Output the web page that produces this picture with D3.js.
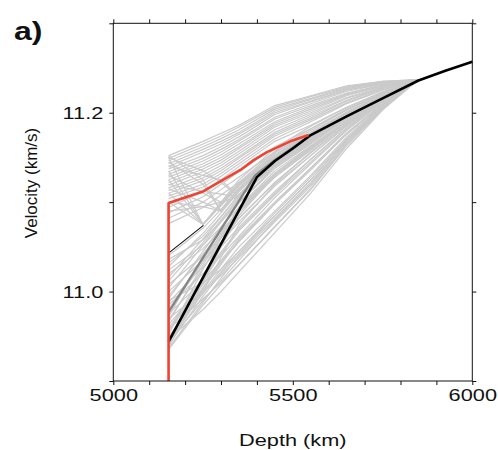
<!DOCTYPE html>
<html>
<head>
<meta charset="utf-8">
<script src="https://cdn.jsdelivr.net/npm/d3@7"></script>
<style>
body { margin: 0; background: #fff; }
text { font-family: "Liberation Sans", Arial, sans-serif; fill: #111; }
</style>
</head>
<body>
<div id="main"></div>
<script>
const ctx = {
    w: 498,
    h: 450,
    left: 113.3, right: 472.3, top: 23.3, bottom: 381,
    SX: 1.28 // text in the figure is stretched horizontally
};

// depth grid shared by the grey ensemble (km)
const gridDepth = [5154, 5250, 5300, 5350, 5450, 5550, 5650, 5750, 5850];

// grey ensemble, upper family: velocity (km/s) at gridDepth
const grayUpper = [
    [11.152, 11.168, 11.177, 11.186, 11.208, 11.219, 11.230, 11.235, 11.237],
    [11.149, 11.165, 11.174, 11.184, 11.206, 11.218, 11.229, 11.235, 11.237],
    [11.146, 11.162, 11.171, 11.181, 11.204, 11.216, 11.228, 11.234, 11.237],
    [11.143, 11.159, 11.168, 11.178, 11.202, 11.215, 11.227, 11.234, 11.237],
    [11.140, 11.156, 11.165, 11.176, 11.200, 11.213, 11.226, 11.233, 11.237],
    [11.137, 11.152, 11.162, 11.173, 11.198, 11.212, 11.225, 11.233, 11.237],
    [11.134, 11.149, 11.159, 11.170, 11.195, 11.210, 11.224, 11.232, 11.237],
    [11.131, 11.146, 11.156, 11.168, 11.193, 11.208, 11.222, 11.231, 11.237],
    [11.128, 11.143, 11.153, 11.165, 11.190, 11.206, 11.221, 11.231, 11.237],
    [11.125, 11.140, 11.150, 11.162, 11.188, 11.204, 11.220, 11.230, 11.237],
    [11.122, 11.137, 11.147, 11.160, 11.186, 11.202, 11.219, 11.230, 11.237],
    [11.119, 11.134, 11.144, 11.157, 11.184, 11.200, 11.217, 11.229, 11.237],
    [11.116, 11.130, 11.141, 11.154, 11.181, 11.198, 11.216, 11.228, 11.237],
    [11.113, 11.127, 11.138, 11.151, 11.178, 11.196, 11.214, 11.228, 11.237],
    [11.110, 11.124, 11.135, 11.149, 11.176, 11.194, 11.213, 11.227, 11.237],
    [11.107, 11.120, 11.132, 11.146, 11.174, 11.192, 11.211, 11.226, 11.237],
    [11.104, 11.117, 11.129, 11.143, 11.171, 11.190, 11.210, 11.225, 11.237],
    [11.094, 11.112, 11.125, 11.140, 11.168, 11.186, 11.206, 11.223, 11.237],
    [11.088, 11.106, 11.120, 11.134, 11.162, 11.182, 11.203, 11.221, 11.237],
    [11.082, 11.100, 11.114, 11.128, 11.156, 11.177, 11.200, 11.219, 11.237],
    [11.076, 11.094, 11.108, 11.122, 11.150, 11.173, 11.197, 11.218, 11.237],
    [11.150, 11.075, 11.100, 11.125, 11.160, 11.185, 11.206, 11.223, 11.237],
    [11.135, 11.075, 11.099, 11.122, 11.157, 11.182, 11.204, 11.222, 11.237],
    [11.125, 11.075, 11.098, 11.120, 11.155, 11.180, 11.203, 11.221, 11.237],
    [11.110, 11.075, 11.097, 11.119, 11.153, 11.178, 11.201, 11.220, 11.237],
    [11.100, 11.075, 11.096, 11.118, 11.152, 11.177, 11.200, 11.219, 11.237],
    [11.152, 11.125, 11.090, 11.114, 11.149, 11.175, 11.199, 11.219, 11.237],
    [11.145, 11.120, 11.090, 11.115, 11.150, 11.175, 11.199, 11.219, 11.237],
    [11.115, 11.100, 11.090, 11.112, 11.148, 11.174, 11.198, 11.218, 11.237],
    [11.100, 11.095, 11.090, 11.113, 11.148, 11.174, 11.198, 11.218, 11.237],
    [11.150, 11.135, 11.122, 11.106, 11.144, 11.171, 11.196, 11.218, 11.237],
    [11.140, 11.130, 11.125, 11.106, 11.145, 11.172, 11.197, 11.218, 11.237],
    [11.130, 11.110, 11.100, 11.106, 11.140, 11.168, 11.195, 11.217, 11.237],
    [11.120, 11.112, 11.109, 11.106, 11.141, 11.169, 11.195, 11.217, 11.237],
    [11.090, 11.095, 11.100, 11.106, 11.142, 11.170, 11.196, 11.217, 11.237]
];

// grey ensemble, lower family
const grayLower = [
    [10.935, 10.985, 11.008, 11.030, 11.073, 11.115, 11.165, 11.205, 11.237],
    [10.937, 10.988, 11.015, 11.040, 11.082, 11.122, 11.168, 11.206, 11.237],
    [10.938, 11.010, 11.050, 11.085, 11.130, 11.160, 11.190, 11.216, 11.237],
    [10.940, 10.995, 11.020, 11.042, 11.085, 11.125, 11.170, 11.207, 11.237],
    [10.942, 11.000, 11.038, 11.075, 11.120, 11.152, 11.186, 11.214, 11.237],
    [10.943, 11.003, 11.030, 11.058, 11.100, 11.138, 11.177, 11.210, 11.237],
    [10.945, 10.990, 11.012, 11.035, 11.080, 11.120, 11.168, 11.206, 11.237],
    [10.947, 10.980, 11.000, 11.022, 11.066, 11.110, 11.160, 11.203, 11.237],
    [10.948, 11.005, 11.032, 11.056, 11.098, 11.138, 11.177, 11.210, 11.237],
    [10.950, 10.998, 11.022, 11.045, 11.088, 11.128, 11.171, 11.208, 11.237],
    [10.952, 11.025, 11.060, 11.095, 11.135, 11.163, 11.191, 11.216, 11.237],
    [10.955, 11.012, 11.042, 11.068, 11.108, 11.145, 11.181, 11.212, 11.237],
    [10.958, 11.016, 11.044, 11.070, 11.110, 11.148, 11.183, 11.213, 11.237],
    [10.958, 10.992, 11.010, 11.030, 11.072, 11.114, 11.163, 11.204, 11.237],
    [10.960, 11.000, 11.025, 11.050, 11.090, 11.130, 11.173, 11.209, 11.237],
    [10.963, 11.008, 11.035, 11.060, 11.100, 11.138, 11.176, 11.210, 11.237],
    [10.966, 11.030, 11.060, 11.090, 11.130, 11.160, 11.189, 11.216, 11.237],
    [10.968, 11.026, 11.055, 11.082, 11.122, 11.156, 11.187, 11.215, 11.237],
    [10.970, 11.000, 11.018, 11.038, 11.078, 11.118, 11.166, 11.205, 11.237],
    [10.972, 11.040, 11.070, 11.100, 11.140, 11.167, 11.194, 11.218, 11.237],
    [10.975, 11.012, 11.034, 11.056, 11.098, 11.136, 11.176, 11.210, 11.237],
    [10.978, 11.033, 11.062, 11.088, 11.128, 11.159, 11.189, 11.216, 11.237],
    [10.980, 11.036, 11.064, 11.092, 11.132, 11.162, 11.190, 11.216, 11.237],
    [10.985, 11.020, 11.040, 11.062, 11.105, 11.143, 11.180, 11.212, 11.237],
    [10.988, 11.028, 11.050, 11.072, 11.112, 11.148, 11.183, 11.213, 11.237],
    [10.990, 11.010, 11.025, 11.045, 11.085, 11.125, 11.170, 11.207, 11.237],
    [10.992, 11.045, 11.072, 11.099, 11.138, 11.166, 11.193, 11.218, 11.237],
    [10.995, 11.042, 11.066, 11.092, 11.132, 11.162, 11.191, 11.217, 11.237],
    [11.000, 11.035, 11.055, 11.078, 11.118, 11.152, 11.185, 11.214, 11.237],
    [11.004, 11.052, 11.078, 11.104, 11.143, 11.169, 11.195, 11.219, 11.237],
    [11.008, 11.040, 11.060, 11.082, 11.122, 11.155, 11.187, 11.215, 11.237],
    [11.012, 11.055, 11.080, 11.106, 11.145, 11.170, 11.196, 11.219, 11.237],
    [11.016, 11.059, 11.083, 11.109, 11.147, 11.172, 11.197, 11.219, 11.237],
    [11.020, 11.048, 11.068, 11.090, 11.128, 11.158, 11.189, 11.215, 11.237],
    [11.024, 11.052, 11.072, 11.094, 11.132, 11.161, 11.190, 11.216, 11.237],
    [11.028, 11.065, 11.088, 11.112, 11.150, 11.174, 11.198, 11.220, 11.237],
    [11.032, 11.062, 11.084, 11.108, 11.146, 11.171, 11.197, 11.219, 11.237],
    [11.036, 11.058, 11.078, 11.100, 11.138, 11.165, 11.193, 11.217, 11.237],
    [11.040, 11.071, 11.092, 11.116, 11.152, 11.176, 11.199, 11.220, 11.237]
];

// best model (black)
const blackDepth = [5154, 5400, 5450, 5500, 5550, 5650, 5750, 5850, 5925, 6000];
const blackVel = [10.944, 11.128, 11.146, 11.160, 11.175, 11.196, 11.216, 11.236, 11.247, 11.257];

// mid grey model
const midDepth = [5154, 5395, 5450, 5550];
const midVel = [10.977, 11.130, 11.147, 11.175];

// thin black model
const thinDepth = [5154, 5251];
const thinVel = [11.043, 11.074];

// red model
const redDepth = [5154, 5154, 5250, 5354, 5391, 5428, 5493, 5544];
const redVel = [10.900, 11.099, 11.112, 11.136, 11.147, 11.156, 11.168, 11.175];

const xTicks = [5000, 5500, 6000];
const yTicks = [11.0, 11.2];

function createViz() {
    const svg = d3.select("#main").append("svg")
        .attr("width", ctx.w)
        .attr("height", ctx.h);

    const x = d3.scaleLinear().domain([5000, 6000]).range([ctx.left, ctx.right]);
    const y = d3.scaleLinear().domain([10.9, 11.3]).range([ctx.bottom, ctx.top]);

    const line = d3.line().x(d => x(d[0])).y(d => y(d[1]));

    const plotG = svg.append("g");

    // grey ensemble
    plotG.append("g").selectAll("path")
        .data(grayLower.concat(grayUpper))
        .enter().append("path")
        .attr("d", m => line(m.map((v, i) => [gridDepth[i], v])))
        .attr("fill", "none")
        .attr("stroke", "#cacaca")
        .attr("stroke-width", 1.2);

    const draw = (dep, vel, color, w) => plotG.append("path")
        .attr("d", line(dep.map((d, i) => [d, vel[i]])))
        .attr("fill", "none")
        .attr("stroke", color)
        .attr("stroke-width", w)
        .attr("stroke-linejoin", "round");

    draw(midDepth, midVel, "#858585", 2.2);
    draw(thinDepth, thinVel, "#111", 1.1);
    draw(blackDepth, blackVel, "#000", 2.6);
    draw(redDepth, redVel, "#ef4433", 2.6);

    // frame
    svg.append("rect")
        .attr("x", ctx.left).attr("y", ctx.top)
        .attr("width", ctx.right - ctx.left)
        .attr("height", ctx.bottom - ctx.top)
        .attr("fill", "none").attr("stroke", "#111").attr("stroke-width", 1);

    const minorX = d3.range(5000, 6001, 100);
    const allY = [10.9, 11.0, 11.1, 11.2, 11.3];

    const styleAxis = g => {
        g.select(".domain").remove();
        g.selectAll(".tick line").attr("stroke", "#111");
    };

    // bottom axis
    const xb = svg.append("g")
        .attr("transform", `translate(0,${ctx.bottom})`)
        .call(d3.axisBottom(x).tickValues(minorX).tickSize(4).tickFormat(d => xTicks.includes(d) ? d : ""))
        .call(styleAxis);
    xb.selectAll(".tick text")
        .attr("font-size", 17).attr("y", 8)
        .attr("transform", `scale(${ctx.SX},1)`);

    svg.append("g")
        .attr("transform", `translate(0,${ctx.top})`)
        .call(d3.axisTop(x).tickValues(minorX).tickSize(4).tickFormat(""))
        .call(styleAxis);

    // left / right axes
    const yl = svg.append("g")
        .attr("transform", `translate(${ctx.left},0)`)
        .call(d3.axisLeft(y).tickValues(allY).tickSize(4).tickFormat(d => yTicks.some(t => Math.abs(t - d) < 1e-9) ? d3.format(".1f")(d) : ""))
        .call(styleAxis);
    yl.selectAll(".tick text")
        .attr("font-size", 17).attr("x", -10 / ctx.SX)
        .attr("transform", `scale(${ctx.SX},1)`);

    svg.append("g")
        .attr("transform", `translate(${ctx.right},0)`)
        .call(d3.axisRight(y).tickValues(allY).tickSize(4).tickFormat(""))
        .call(styleAxis);

    // axis titles
    svg.append("text")
        .attr("transform", `translate(${(ctx.left + ctx.right) / 2},446) scale(${ctx.SX},1)`)
        .attr("text-anchor", "middle")
        .attr("font-size", 17)
        .text("Depth (km)");

    svg.append("text")
        .attr("transform", `translate(37,183) rotate(-90)`)
        .attr("text-anchor", "middle")
        .attr("font-size", 17)
        .text("Velocity (km/s)");

    svg.append("text")
        .attr("transform", `translate(14,40) scale(${ctx.SX},1)`)
        .attr("font-size", 25)
        .attr("font-weight", "bold")
        .text("a)");
}

createViz();
</script>
</body>
</html>
